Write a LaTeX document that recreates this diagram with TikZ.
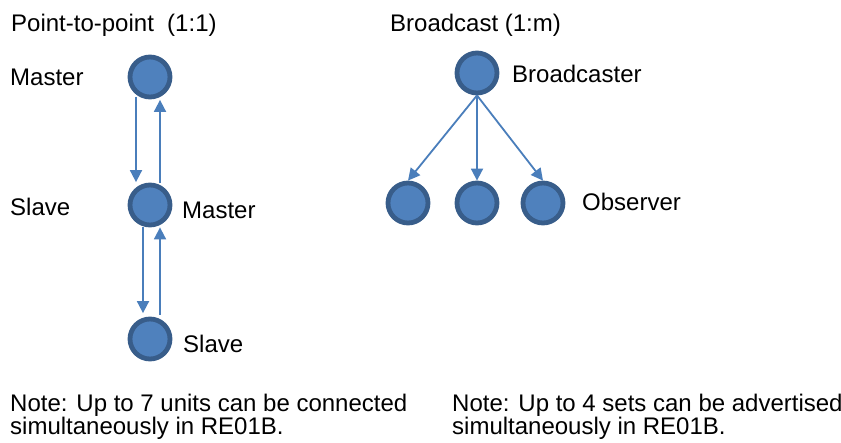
\documentclass[tikz,border=0pt]{standalone}
\usepackage{fontspec}
\setmainfont{Liberation Sans}
\usetikzlibrary{arrows.meta}
\definecolor{nodefill}{HTML}{4F81BD}
\definecolor{nodeedge}{HTML}{385D8A}
\definecolor{linkblue}{HTML}{4A7EBB}
\tikzset{
  unit/.style={circle, fill=nodefill, draw=nodeedge, line width=4.8pt, minimum size=40pt, inner sep=0pt},
  lbl/.style={anchor=base west, inner sep=0pt, font=\fontsize{24}{21.5}\selectfont},
  note/.style={lbl, align=left},
  link/.style={draw=linkblue, line width=1.8pt, -{Triangle[length=12pt,width=12pt]}}
}
\begin{document}
\begin{tikzpicture}[x=1pt, y=-1pt]
  \useasboundingbox (0,0) rectangle (841,442);

  % headings
  \node[lbl] (h1) at (11,31) {Point-to-point\ \ (1:1)};
  \node[lbl] (h2) at (390,31) {Broadcast (1:m)};

  % point-to-point chain
  \node[unit] (m1) at (150,77) {};
  \node[unit] (m2) at (150,205) {};
  \node[unit] (s2) at (150,339) {};

  \node[lbl] (l1) at (10,85) {Master};
  \node[lbl] (l2) at (10,215) {Slave};
  \node[lbl] (l3) at (182,218) {Master};
  \node[lbl] (l4) at (183,352) {Slave};

  \draw[link] ([xshift=-14pt,yshift=2.5pt]m1.south) -- ([xshift=-14pt,yshift=0.5pt]m2.north);
  \draw[link] ([xshift=10pt]m2.north) -- ([xshift=10pt,yshift=-0.5pt]m1.south);
  \draw[link] ([xshift=-7pt]m2.south) -- ([xshift=-7pt,yshift=3.5pt]s2.north);
  \draw[link] ([xshift=10pt,yshift=1.5pt]s2.north) -- ([xshift=10pt]m2.south);

  % broadcast tree
  \node[unit] (b) at (477,73) {};
  \node[unit] (o1) at (408,203) {};
  \node[unit] (o2) at (477,203) {};
  \node[unit] (o3) at (543,203) {};

  \node[lbl] (lb) at (512,82) {Broadcaster};
  \node[lbl] (lo) at (582,210) {Observer};

  \draw[link] (b.south) -- (o1.north);
  \draw[link] (b.south) -- (o2.north);
  \draw[link] (b.south) -- (o3.north);

  % notes (anchored at the baseline of their last line)
  \node[note] (n1) at (10,434.5) {Note: Up to 7 units can be connected\\simultaneously in RE01B.};
  \node[note] (n2) at (452,434.5) {Note: Up to 4 sets can be advertised\\simultaneously in RE01B.};
\end{tikzpicture}
\end{document}
